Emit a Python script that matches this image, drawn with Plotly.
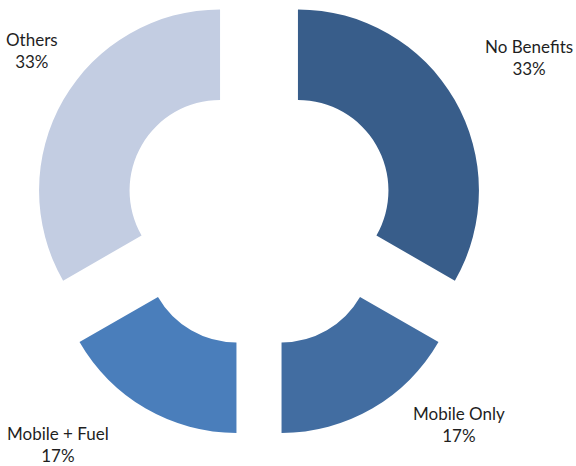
import numpy as np
import plotly.graph_objects as go

# ---- data ----
categories = ["No Benefits", "Mobile Only", "Mobile + Fuel", "Others"]
shares = [33.3, 16.7, 16.7, 33.3]
colors = ["#385D8A", "#426DA1", "#4A7EBB", "#C3CDE2"]

# ---- layout geometry (page pixels) ----
W, H = 576, 466
CX, CY = 259, 213               # centre of the un-exploded donut
R = 181                         # outer radius
EXPLODE = 45                    # explode distance of every slice
label_xy = [(529, 58), (459, 424), (58, 444), (32, 51)]

vals = np.array(shares, dtype=float)
ends = np.cumsum(vals) / vals.sum() * 360.0
starts = ends - vals / vals.sum() * 360.0
mids = np.radians((starts + ends) / 2.0)
pct = vals / vals.sum()


def px_x(x):
    return x / W


def px_y(y):
    return 1 - y / H


fig = go.Figure()
for i, cat in enumerate(categories):
    ox = CX + EXPLODE * np.sin(mids[i])
    oy = CY - EXPLODE * np.cos(mids[i])
    cols = ["rgba(0,0,0,0)"] * len(categories)
    cols[i] = colors[i]
    fig.add_trace(go.Pie(
        labels=categories, values=shares, hole=0.5, sort=False,
        direction="clockwise", rotation=0, textinfo="none",
        marker=dict(colors=cols, line=dict(width=0)),
        domain=dict(x=[px_x(ox - R), px_x(ox + R)],
                    y=[px_y(oy + R), px_y(oy - R)]),
        showlegend=False, hoverinfo="label+percent",
    ))

for i, cat in enumerate(categories):
    lx, ly = label_xy[i]
    fig.add_annotation(
        x=px_x(lx), y=px_y(ly), xref="paper", yref="paper",
        text=f"{cat}<br>{pct[i]*100:.0f}%", showarrow=False,
        xanchor="center", yanchor="middle", align="center",
        font=dict(family="Lato, Noto Sans, sans-serif", size=17, color="#1f1f1f"),
    )

fig.update_layout(
    width=W, height=H, margin=dict(l=0, r=0, t=0, b=0),
    paper_bgcolor="white", plot_bgcolor="white",
)
fig.write_html(
    "out.html",
    config={"displayModeBar": False},
    post_script="document.body.style.margin='0';document.body.style.overflow='hidden';",
)
